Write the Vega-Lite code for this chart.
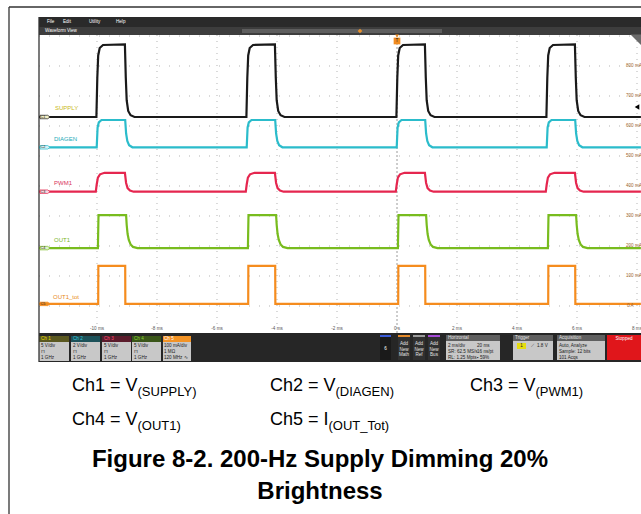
{
"$schema": "https://vega.github.io/schema/vega-lite/v6.json",
"width": 641, "height": 514, "padding": 0, "autosize": {"type": "none"},
"background": "white",
"config": {"view": {"stroke": null}},
"datasets": {
"boxes": [
{"part":"menu","t":-11.9333,"t2":8.1333,"v":9.6333,"v2":9.3},
{"part":"bar","t":-11.9333,"t2":8.1333,"v":9.3,"v2":9.0333},
{"part":"track","t":-5.1667,"t2":1.5,"v":9.2333,"v2":9.1},
{"part":"dock","t":-11.9333,"t2":8.1333,"v":-0.9,"v2":-1.8667},
{"part":"h1","t":-11.9333,"t2":-10.9333,"v":-1.0,"v2":-1.2},
{"part":"h2","t":-10.8667,"t2":-9.9,"v":-1.0,"v2":-1.2},
{"part":"h3","t":-9.8333,"t2":-8.8667,"v":-1.0,"v2":-1.2},
{"part":"h4","t":-8.8333,"t2":-7.8667,"v":-1.0,"v2":-1.2},
{"part":"h5","t":-7.8,"t2":-6.8667,"v":-1.0,"v2":-1.2},
{"part":"body","t":-11.9333,"t2":-10.9333,"v":-1.2,"v2":-1.8333},
{"part":"body","t":-10.8667,"t2":-9.9,"v":-1.2,"v2":-1.8333},
{"part":"body","t":-9.8333,"t2":-8.8667,"v":-1.2,"v2":-1.8333},
{"part":"body","t":-8.8333,"t2":-7.8667,"v":-1.2,"v2":-1.8333},
{"part":"body","t":-7.8,"t2":-6.8667,"v":-1.2,"v2":-1.8333},
{"part":"dark","t":-0.5667,"t2":-0.2,"v":-0.9667,"v2":-1.8},
{"part":"blue","t":-0.5667,"t2":-0.2,"v":-0.9667,"v2":-1.0333},
{"part":"dark2","t":0.0333,"t2":0.4333,"v":-0.9667,"v2":-1.8},
{"part":"dark2","t":0.5333,"t2":0.9333,"v":-0.9667,"v2":-1.8},
{"part":"dark2","t":1.0333,"t2":1.4333,"v":-0.9667,"v2":-1.8},
{"part":"orange","t":0.0333,"t2":0.4333,"v":-0.9667,"v2":-1.0333},
{"part":"gray","t":0.5333,"t2":0.9333,"v":-0.9667,"v2":-1.0333},
{"part":"purple","t":1.0333,"t2":1.4333,"v":-0.9667,"v2":-1.0333},
{"part":"hdr","t":1.6333,"t2":3.4333,"v":-0.9667,"v2":-1.1667},
{"part":"body","t":1.6333,"t2":3.4333,"v":-1.1667,"v2":-1.8},
{"part":"hdr","t":3.8667,"t2":5.2,"v":-0.9667,"v2":-1.1667},
{"part":"body","t":3.8667,"t2":5.2,"v":-1.1667,"v2":-1.8},
{"part":"hdr","t":5.3333,"t2":6.9333,"v":-0.9667,"v2":-1.1667},
{"part":"body","t":5.3333,"t2":6.9333,"v":-1.1667,"v2":-1.8},
{"part":"stop","t":7.0,"t2":8.1333,"v":-0.9667,"v2":-1.8},
{"part":"trigbox","t":4.0,"t2":4.3,"v":-1.2333,"v2":-1.4333}
],
"hgrid": [
{"t":-11.9333,"t2":8.1333,"v":0},{"t":-11.9333,"t2":8.1333,"v":1},{"t":-11.9333,"t2":8.1333,"v":2},
{"t":-11.9333,"t2":8.1333,"v":3},{"t":-11.9333,"t2":8.1333,"v":4},{"t":-11.9333,"t2":8.1333,"v":5},
{"t":-11.9333,"t2":8.1333,"v":6},{"t":-11.9333,"t2":8.1333,"v":7},{"t":-11.9333,"t2":8.1333,"v":8},
{"t":-11.9333,"t2":8.1333,"v":9}
],
"vgrid": [
{"t":-10,"v":9.0333,"v2":-0.6},{"t":-8,"v":9.0333,"v2":-0.6},{"t":-6,"v":9.0333,"v2":-0.6},
{"t":-4,"v":9.0333,"v2":-0.6},{"t":-2,"v":9.0333,"v2":-0.6},{"t":2,"v":9.0333,"v2":-0.6},
{"t":4,"v":9.0333,"v2":-0.6},{"t":6,"v":9.0333,"v2":-0.6},{"t":8,"v":9.0333,"v2":-0.6}
],
"trig": [{"t":0,"v":9.0333,"v2":-0.9}],
"frame": [
{"t":-12.9333,"t2":8.1333,"v":9.9667,"v2":9.9667},
{"t":-12.9333,"t2":-12.9333,"v":9.9667,"v2":-6.9333},
{"t":-11.9333,"t2":-11.9333,"v":9.6333,"v2":-1.8667}
],
"traces": [
{"c":"SUPPLY","t":-11.93,"v":6.3},
{"c":"SUPPLY","t":-10.02,"v":6.3},{"c":"SUPPLY","t":-9.99,"v":7.6},{"c":"SUPPLY","t":-9.96,"v":8.35},{"c":"SUPPLY","t":-9.91,"v":8.6},{"c":"SUPPLY","t":-9.8,"v":8.7},{"c":"SUPPLY","t":-9.07,"v":8.72},{"c":"SUPPLY","t":-9.04,"v":7.6},{"c":"SUPPLY","t":-9.01,"v":6.85},{"c":"SUPPLY","t":-8.96,"v":6.5},{"c":"SUPPLY","t":-8.88,"v":6.36},{"c":"SUPPLY","t":-8.75,"v":6.3},
{"c":"SUPPLY","t":-5.02,"v":6.3},{"c":"SUPPLY","t":-4.99,"v":7.6},{"c":"SUPPLY","t":-4.96,"v":8.35},{"c":"SUPPLY","t":-4.91,"v":8.6},{"c":"SUPPLY","t":-4.8,"v":8.7},{"c":"SUPPLY","t":-4.07,"v":8.72},{"c":"SUPPLY","t":-4.04,"v":7.6},{"c":"SUPPLY","t":-4.01,"v":6.85},{"c":"SUPPLY","t":-3.96,"v":6.5},{"c":"SUPPLY","t":-3.88,"v":6.36},{"c":"SUPPLY","t":-3.75,"v":6.3},
{"c":"SUPPLY","t":-0.02,"v":6.3},{"c":"SUPPLY","t":0.01,"v":7.6},{"c":"SUPPLY","t":0.04,"v":8.35},{"c":"SUPPLY","t":0.09,"v":8.6},{"c":"SUPPLY","t":0.2,"v":8.7},{"c":"SUPPLY","t":0.93,"v":8.72},{"c":"SUPPLY","t":0.96,"v":7.6},{"c":"SUPPLY","t":0.99,"v":6.85},{"c":"SUPPLY","t":1.04,"v":6.5},{"c":"SUPPLY","t":1.12,"v":6.36},{"c":"SUPPLY","t":1.25,"v":6.3},
{"c":"SUPPLY","t":4.98,"v":6.3},{"c":"SUPPLY","t":5.01,"v":7.6},{"c":"SUPPLY","t":5.04,"v":8.35},{"c":"SUPPLY","t":5.09,"v":8.6},{"c":"SUPPLY","t":5.2,"v":8.7},{"c":"SUPPLY","t":5.93,"v":8.72},{"c":"SUPPLY","t":5.96,"v":7.6},{"c":"SUPPLY","t":5.99,"v":6.85},{"c":"SUPPLY","t":6.04,"v":6.5},{"c":"SUPPLY","t":6.12,"v":6.36},{"c":"SUPPLY","t":6.25,"v":6.3},
{"c":"SUPPLY","t":8.13,"v":6.3},
{"c":"DIAGEN","t":-11.93,"v":5.29},
{"c":"DIAGEN","t":-10.01,"v":5.29},{"c":"DIAGEN","t":-9.98,"v":5.95},{"c":"DIAGEN","t":-9.94,"v":6.12},{"c":"DIAGEN","t":-9.85,"v":6.2},{"c":"DIAGEN","t":-9.06,"v":6.2},{"c":"DIAGEN","t":-9.03,"v":5.75},{"c":"DIAGEN","t":-8.99,"v":5.5},{"c":"DIAGEN","t":-8.93,"v":5.36},{"c":"DIAGEN","t":-8.82,"v":5.29},
{"c":"DIAGEN","t":-5.01,"v":5.29},{"c":"DIAGEN","t":-4.98,"v":5.95},{"c":"DIAGEN","t":-4.94,"v":6.12},{"c":"DIAGEN","t":-4.85,"v":6.2},{"c":"DIAGEN","t":-4.06,"v":6.2},{"c":"DIAGEN","t":-4.03,"v":5.75},{"c":"DIAGEN","t":-3.99,"v":5.5},{"c":"DIAGEN","t":-3.93,"v":5.36},{"c":"DIAGEN","t":-3.82,"v":5.29},
{"c":"DIAGEN","t":-0.01,"v":5.29},{"c":"DIAGEN","t":0.02,"v":5.95},{"c":"DIAGEN","t":0.06,"v":6.12},{"c":"DIAGEN","t":0.15,"v":6.2},{"c":"DIAGEN","t":0.94,"v":6.2},{"c":"DIAGEN","t":0.97,"v":5.75},{"c":"DIAGEN","t":1.01,"v":5.5},{"c":"DIAGEN","t":1.07,"v":5.36},{"c":"DIAGEN","t":1.18,"v":5.29},
{"c":"DIAGEN","t":4.99,"v":5.29},{"c":"DIAGEN","t":5.02,"v":5.95},{"c":"DIAGEN","t":5.06,"v":6.12},{"c":"DIAGEN","t":5.15,"v":6.2},{"c":"DIAGEN","t":5.94,"v":6.2},{"c":"DIAGEN","t":5.97,"v":5.75},{"c":"DIAGEN","t":6.01,"v":5.5},{"c":"DIAGEN","t":6.07,"v":5.36},{"c":"DIAGEN","t":6.18,"v":5.29},
{"c":"DIAGEN","t":8.13,"v":5.29},
{"c":"PWM1","t":-11.93,"v":3.81},
{"c":"PWM1","t":-10.04,"v":3.81},{"c":"PWM1","t":-10.01,"v":4.05},{"c":"PWM1","t":-9.97,"v":4.28},{"c":"PWM1","t":-9.9,"v":4.39},{"c":"PWM1","t":-9.75,"v":4.44},{"c":"PWM1","t":-9.07,"v":4.44},{"c":"PWM1","t":-9.03,"v":4.1},{"c":"PWM1","t":-8.98,"v":3.93},{"c":"PWM1","t":-8.9,"v":3.85},{"c":"PWM1","t":-8.78,"v":3.81},
{"c":"PWM1","t":-5.04,"v":3.81},{"c":"PWM1","t":-5.01,"v":4.05},{"c":"PWM1","t":-4.97,"v":4.28},{"c":"PWM1","t":-4.9,"v":4.39},{"c":"PWM1","t":-4.75,"v":4.44},{"c":"PWM1","t":-4.07,"v":4.44},{"c":"PWM1","t":-4.03,"v":4.1},{"c":"PWM1","t":-3.98,"v":3.93},{"c":"PWM1","t":-3.9,"v":3.85},{"c":"PWM1","t":-3.78,"v":3.81},
{"c":"PWM1","t":-0.04,"v":3.81},{"c":"PWM1","t":-0.01,"v":4.05},{"c":"PWM1","t":0.03,"v":4.28},{"c":"PWM1","t":0.1,"v":4.39},{"c":"PWM1","t":0.25,"v":4.44},{"c":"PWM1","t":0.93,"v":4.44},{"c":"PWM1","t":0.97,"v":4.1},{"c":"PWM1","t":1.02,"v":3.93},{"c":"PWM1","t":1.1,"v":3.85},{"c":"PWM1","t":1.22,"v":3.81},
{"c":"PWM1","t":4.96,"v":3.81},{"c":"PWM1","t":4.99,"v":4.05},{"c":"PWM1","t":5.03,"v":4.28},{"c":"PWM1","t":5.1,"v":4.39},{"c":"PWM1","t":5.25,"v":4.44},{"c":"PWM1","t":5.93,"v":4.44},{"c":"PWM1","t":5.97,"v":4.1},{"c":"PWM1","t":6.02,"v":3.93},{"c":"PWM1","t":6.1,"v":3.85},{"c":"PWM1","t":6.22,"v":3.81},
{"c":"PWM1","t":8.13,"v":3.81},
{"c":"OUT1","t":-11.93,"v":1.93},
{"c":"OUT1","t":-9.97,"v":1.93},{"c":"OUT1","t":-9.95,"v":3.03},{"c":"OUT1","t":-9.03,"v":3.03},{"c":"OUT1","t":-9.01,"v":2.7},{"c":"OUT1","t":-8.98,"v":2.4},{"c":"OUT1","t":-8.94,"v":2.2},{"c":"OUT1","t":-8.88,"v":2.05},{"c":"OUT1","t":-8.8,"v":1.97},{"c":"OUT1","t":-8.65,"v":1.93},
{"c":"OUT1","t":-4.97,"v":1.93},{"c":"OUT1","t":-4.95,"v":3.03},{"c":"OUT1","t":-4.03,"v":3.03},{"c":"OUT1","t":-4.01,"v":2.7},{"c":"OUT1","t":-3.98,"v":2.4},{"c":"OUT1","t":-3.94,"v":2.2},{"c":"OUT1","t":-3.88,"v":2.05},{"c":"OUT1","t":-3.8,"v":1.97},{"c":"OUT1","t":-3.65,"v":1.93},
{"c":"OUT1","t":0.03,"v":1.93},{"c":"OUT1","t":0.05,"v":3.03},{"c":"OUT1","t":0.97,"v":3.03},{"c":"OUT1","t":0.99,"v":2.7},{"c":"OUT1","t":1.02,"v":2.4},{"c":"OUT1","t":1.06,"v":2.2},{"c":"OUT1","t":1.12,"v":2.05},{"c":"OUT1","t":1.2,"v":1.97},{"c":"OUT1","t":1.35,"v":1.93},
{"c":"OUT1","t":5.03,"v":1.93},{"c":"OUT1","t":5.05,"v":3.03},{"c":"OUT1","t":5.97,"v":3.03},{"c":"OUT1","t":5.99,"v":2.7},{"c":"OUT1","t":6.02,"v":2.4},{"c":"OUT1","t":6.06,"v":2.2},{"c":"OUT1","t":6.12,"v":2.05},{"c":"OUT1","t":6.2,"v":1.97},{"c":"OUT1","t":6.35,"v":1.93},
{"c":"OUT1","t":8.13,"v":1.93},
{"c":"OUT1_tot","t":-11.93,"v":0.07},
{"c":"OUT1_tot","t":-9.96,"v":0.07},{"c":"OUT1_tot","t":-9.955,"v":1.34},{"c":"OUT1_tot","t":-9.06,"v":1.34},{"c":"OUT1_tot","t":-9.055,"v":0.07},
{"c":"OUT1_tot","t":-4.96,"v":0.07},{"c":"OUT1_tot","t":-4.955,"v":1.34},{"c":"OUT1_tot","t":-4.06,"v":1.34},{"c":"OUT1_tot","t":-4.055,"v":0.07},
{"c":"OUT1_tot","t":0.04,"v":0.07},{"c":"OUT1_tot","t":0.045,"v":1.34},{"c":"OUT1_tot","t":0.94,"v":1.34},{"c":"OUT1_tot","t":0.945,"v":0.07},
{"c":"OUT1_tot","t":5.04,"v":0.07},{"c":"OUT1_tot","t":5.045,"v":1.34},{"c":"OUT1_tot","t":5.94,"v":1.34},{"c":"OUT1_tot","t":5.945,"v":0.07},
{"c":"OUT1_tot","t":8.13,"v":0.07}
],
"badges": [
{"c":"SUPPLY","part":"b1","t":-11.7333,"v":6.3,"text":"C1"},
{"c":"DIAGEN","part":"b2","t":-11.7333,"v":5.29,"text":"C2"},
{"c":"PWM1","part":"b3","t":-11.7333,"v":3.81,"text":"C3"},
{"c":"OUT1","part":"b4","t":-11.7333,"v":1.93,"text":"C4"},
{"c":"OUT1_tot","part":"b5","t":-11.7333,"v":0.07,"text":"C5"}
],
"marks": [
{"m":"tbox","t":0,"v":8.8333},
{"m":"tri","t":0,"v":9.0},
{"m":"slider","t":-1.2333,"v":9.1667},
{"m":"corner","t":7.9667,"v":8.8667},
{"m":"arrow","t":8.0,"v":6.6333}
],
"labels": [
{"kind":"ui","ink":"white","t":-11.6667,"v":9.4667,"text":"File"},
{"kind":"ui","ink":"white","t":-11.1333,"v":9.4667,"text":"Edit"},
{"kind":"ui","ink":"white","t":-10.2667,"v":9.4667,"text":"Utility"},
{"kind":"ui","ink":"white","t":-9.3667,"v":9.4667,"text":"Help"},
{"kind":"ui","ink":"white","t":-11.7333,"v":9.1667,"text":"Waveform View"},
{"kind":"uic","ink":"tick","t":-10,"v":-0.7667,"text":"-10 ms"},
{"kind":"uic","ink":"tick","t":-8,"v":-0.7667,"text":"-8 ms"},
{"kind":"uic","ink":"tick","t":-6,"v":-0.7667,"text":"-6 ms"},
{"kind":"uic","ink":"tick","t":-4,"v":-0.7667,"text":"-4 ms"},
{"kind":"uic","ink":"tick","t":-2,"v":-0.7667,"text":"-2 ms"},
{"kind":"uic","ink":"tick","t":0,"v":-0.7667,"text":"0 s"},
{"kind":"uic","ink":"tick","t":2,"v":-0.7667,"text":"2 ms"},
{"kind":"uic","ink":"tick","t":4,"v":-0.7667,"text":"4 ms"},
{"kind":"uic","ink":"tick","t":6,"v":-0.7667,"text":"6 ms"},
{"kind":"uic","ink":"tick","t":8,"v":-0.7667,"text":"8 ms"},
{"kind":"ui","ink":"ch5","t":7.6333,"v":8,"text":"800 mA"},
{"kind":"ui","ink":"ch5","t":7.6333,"v":7,"text":"700 mA"},
{"kind":"ui","ink":"ch5","t":7.6333,"v":6,"text":"600 mA"},
{"kind":"ui","ink":"ch5","t":7.6333,"v":5,"text":"500 mA"},
{"kind":"ui","ink":"ch5","t":7.6333,"v":4,"text":"400 mA"},
{"kind":"ui","ink":"ch5","t":7.6333,"v":3,"text":"300 mA"},
{"kind":"ui","ink":"ch5","t":7.6333,"v":2,"text":"200 mA"},
{"kind":"ui","ink":"ch5","t":7.6333,"v":1,"text":"100 mA"},
{"kind":"ui","ink":"ch5","t":7.6667,"v":0,"text":"0 A"},
{"kind":"ui","ink":"y","t":-11.8667,"v":-1.1,"text":"Ch 1"},
{"kind":"ui","ink":"c","t":-10.8,"v":-1.1,"text":"Ch 2"},
{"kind":"ui","ink":"r","t":-9.7667,"v":-1.1,"text":"Ch 3"},
{"kind":"ui","ink":"g","t":-8.7667,"v":-1.1,"text":"Ch 4"},
{"kind":"ui","ink":"white","t":-7.7667,"v":-1.1,"text":"Ch 5"},
{"kind":"ui","ink":"dark","t":-11.8667,"v":-1.3333,"text":"5 V/div"},
{"kind":"ui","ink":"dark","t":-11.8667,"v":-1.5333,"text":"⊓"},
{"kind":"ui","ink":"dark","t":-11.8667,"v":-1.7333,"text":"1 GHz"},
{"kind":"ui","ink":"dark","t":-10.8,"v":-1.3333,"text":"2 V/div"},
{"kind":"ui","ink":"dark","t":-10.8,"v":-1.5333,"text":"⊓"},
{"kind":"ui","ink":"dark","t":-10.8,"v":-1.7333,"text":"1 GHz"},
{"kind":"ui","ink":"dark","t":-9.7667,"v":-1.3333,"text":"5 V/div"},
{"kind":"ui","ink":"dark","t":-9.7667,"v":-1.5333,"text":"⊓"},
{"kind":"ui","ink":"dark","t":-9.7667,"v":-1.7333,"text":"1 GHz"},
{"kind":"ui","ink":"dark","t":-8.7667,"v":-1.3333,"text":"5 V/div"},
{"kind":"ui","ink":"dark","t":-8.7667,"v":-1.5333,"text":"⊓"},
{"kind":"ui","ink":"dark","t":-8.7667,"v":-1.7333,"text":"1 GHz"},
{"kind":"ui","ink":"dark","t":-7.7667,"v":-1.3333,"text":"100 mA/div"},
{"kind":"ui","ink":"dark","t":-7.7667,"v":-1.5333,"text":"1 MΩ"},
{"kind":"ui","ink":"dark","t":-7.7667,"v":-1.7333,"text":"120 MHz ∿"},
{"kind":"uic","ink":"white","t":-0.3833,"v":-1.4333,"text":"6"},
{"kind":"uic","ink":"light","t":0.2333,"v":-1.2667,"text":"Add"},
{"kind":"uic","ink":"light","t":0.2333,"v":-1.45,"text":"New"},
{"kind":"uic","ink":"light","t":0.2333,"v":-1.6333,"text":"Math"},
{"kind":"uic","ink":"light","t":0.7333,"v":-1.2667,"text":"Add"},
{"kind":"uic","ink":"light","t":0.7333,"v":-1.45,"text":"New"},
{"kind":"uic","ink":"light","t":0.7333,"v":-1.6333,"text":"Ref"},
{"kind":"uic","ink":"light","t":1.2333,"v":-1.2667,"text":"Add"},
{"kind":"uic","ink":"light","t":1.2333,"v":-1.45,"text":"New"},
{"kind":"uic","ink":"light","t":1.2333,"v":-1.6333,"text":"Bus"},
{"kind":"ui","ink":"light","t":1.7,"v":-1.0667,"text":"Horizontal"},
{"kind":"ui","ink":"dark","t":1.7,"v":-1.3333,"text":"2 ms/div"},
{"kind":"ui","ink":"dark","t":2.6667,"v":-1.3333,"text":"20 ms"},
{"kind":"ui","ink":"dark","t":1.7,"v":-1.5333,"text":"SR: 62.5 MS/s"},
{"kind":"ui","ink":"dark","t":2.6667,"v":-1.5333,"text":"16 ns/pt"},
{"kind":"ui","ink":"dark","t":1.7,"v":-1.7333,"text":"RL: 1.25 Mpts"},
{"kind":"ui","ink":"dark","t":2.6667,"v":-1.7333,"text":"▪ 59%"},
{"kind":"ui","ink":"light","t":3.9333,"v":-1.0667,"text":"Trigger"},
{"kind":"uic","ink":"dark","t":4.15,"v":-1.3333,"text":"1"},
{"kind":"ui","ink":"dark","t":4.4667,"v":-1.3333,"text":"⟋"},
{"kind":"ui","ink":"dark","t":4.6667,"v":-1.3333,"text":"1.8 V"},
{"kind":"ui","ink":"light","t":5.4,"v":-1.0667,"text":"Acquisition"},
{"kind":"ui","ink":"dark","t":5.4,"v":-1.3333,"text":"Auto,    Analyze"},
{"kind":"ui","ink":"dark","t":5.4,"v":-1.5333,"text":"Sample: 12 bits"},
{"kind":"ui","ink":"dark","t":5.4,"v":-1.7333,"text":"101 Acqs"},
{"kind":"uic","ink":"white","t":7.5667,"v":-1.1,"text":"Stopped"},
{"kind":"uic","ink":"dark","t":0,"v":8.8333,"text":"T"},
{"kind":"trace","ink":"supply","t":-11.4,"v":6.6,"text":"SUPPLY"},
{"kind":"trace","ink":"diagen","t":-11.4333,"v":5.5667,"text":"DIAGEN"},
{"kind":"trace","ink":"pwm","t":-11.4333,"v":4.1,"text":"PWM1"},
{"kind":"trace","ink":"out","t":-11.4333,"v":2.2,"text":"OUT1"},
{"kind":"trace","ink":"tot","t":-11.4667,"v":0.3,"text":"OUT1_tot"},
{"kind":"badge","ink":"dark","t":-11.8,"v":6.3,"text":"C1"},
{"kind":"badge","ink":"dark","t":-11.8,"v":5.29,"text":"C2"},
{"kind":"badge","ink":"dark","t":-11.8,"v":3.81,"text":"C3"},
{"kind":"badge","ink":"dark","t":-11.8,"v":1.93,"text":"C4"},
{"kind":"badge","ink":"dark","t":-11.8,"v":0.07,"text":"C5"},
{"kind":"cap","ink":"black","t":-10.8333,"v":-2.8333,"text":"Ch1 = V"},
{"kind":"cap","ink":"black","t":-4.2333,"v":-2.8333,"text":"Ch2 = V"},
{"kind":"cap","ink":"black","t":2.4333,"v":-2.8333,"text":"Ch3 = V"},
{"kind":"cap","ink":"black","t":-10.8333,"v":-3.9667,"text":"Ch4 = V"},
{"kind":"cap","ink":"black","t":-4.2333,"v":-3.9667,"text":"Ch5 = I"},
{"kind":"sub","ink":"black","t":-8.65,"v":-3.0,"text":"(SUPPLY)"},
{"kind":"sub","ink":"black","t":-2.05,"v":-3.0,"text":"(DIAGEN)"},
{"kind":"sub","ink":"black","t":4.6167,"v":-3.0,"text":"(PWM1)"},
{"kind":"sub","ink":"black","t":-8.65,"v":-4.1333,"text":"(OUT1)"},
{"kind":"sub","ink":"black","t":-2.2833,"v":-4.1333,"text":"(OUT_Tot)"},
{"kind":"title","ink":"black","t":-2.5667,"v":-5.3667,"text":"Figure 8-2. 200-Hz Supply Dimming 20%"},
{"kind":"title","ink":"black","t":-2.5667,"v":-6.4333,"text":"Brightness"}
]
},
"encoding": {
"x": {"field":"t","type":"quantitative","scale":{"domain":[-13.2333,8.1333],"nice":false,"zero":false},"axis":null},
"y": {"field":"v","type":"quantitative","scale":{"domain":[-6.9333,10.2],"nice":false,"zero":false},"axis":null}
},
"layer": [
{"data":{"name":"boxes"},"mark":{"type":"rect","strokeWidth":0},
 "encoding":{"x2":{"field":"t2"},"y2":{"field":"v2"},
 "fill":{"field":"part","type":"nominal","legend":null,"scale":{
 "domain":["menu","bar","track","dock","h1","h2","h3","h4","h5","body","dark","dark2","blue","orange","gray","purple","hdr","stop","trigbox","b1","b2","b3","b4","b5"],
 "range":["#2a2a2a","#3d3d3d","#5e5e5e","#262626","#5a5820","#1c5159","#5b1c2c","#3a5619","#f39325","#c8c8c8","#1a1a1a","#303030","#3a5bd8","#e58a2a","#9a9a9a","#a54bd6","#5f5f5f","#e0161b","#e5dc10","#f4f0c5","#d5f2f5","#f9d8e0","#e3f2cf","#f08b1f"]}}}},
{"data":{"name":"hgrid"},"mark":{"type":"rule","color":"#b5b5b5","strokeWidth":1,"strokeDash":[1,9]},
 "encoding":{"x2":{"field":"t2"}}},
{"data":{"name":"vgrid"},"mark":{"type":"rule","color":"#b5b5b5","strokeWidth":1,"strokeDash":[1,5]},
 "encoding":{"y2":{"field":"v2"}}},
{"data":{"name":"trig"},"mark":{"type":"rule","color":"#9a9a9a","strokeWidth":1,"strokeDash":[2,2]},
 "encoding":{"y2":{"field":"v2"}}},
{"data":{"name":"traces"},"mark":{"type":"line","strokeWidth":2.2,"interpolate":"linear"},
 "encoding":{"stroke":{"field":"c","type":"nominal","legend":null,"scale":{
 "domain":["SUPPLY","DIAGEN","PWM1","OUT1","OUT1_tot"],
 "range":["#1a1a1a","#2bbccb","#e5264f","#78bc1e","#f58c1e"]}},
 "order":{"field":"t","type":"quantitative"}}},
{"data":{"name":"frame"},"mark":{"type":"rule","color":"#333333","strokeWidth":1.3},
 "encoding":{"x2":{"field":"t2"},"y2":{"field":"v2"}}},
{"data":{"name":"badges"},"mark":{"type":"point","filled":true,"size":100,"strokeWidth":0.7,"opacity":1,
 "shape":"M-1,-0.35L0.55,-0.35L1,0L0.55,0.35L-1,0.35Z"},
 "encoding":{"fill":{"field":"part","type":"nominal","legend":null},
 "stroke":{"field":"c","type":"nominal","legend":null}}},
{"data":{"name":"marks"},"transform":[{"filter":"datum.m=='tbox'"}],"mark":{"type":"point","shape":"square","filled":true,"size":45,"color":"#f08b1f","opacity":1}},
{"data":{"name":"marks"},"transform":[{"filter":"datum.m=='tri'"}],"mark":{"type":"point","shape":"triangle-down","filled":true,"size":14,"color":"#f08b1f","opacity":1}},
{"data":{"name":"marks"},"transform":[{"filter":"datum.m=='slider'"}],"mark":{"type":"point","shape":"diamond","filled":true,"size":22,"color":"#e8912c","opacity":1}},
{"data":{"name":"marks"},"transform":[{"filter":"datum.m=='corner'"}],"mark":{"type":"point","shape":"M-1,-1L1,-1L1,1Z","filled":true,"size":120,"color":"#6a6a6a","opacity":1}},
{"data":{"name":"marks"},"transform":[{"filter":"datum.m=='arrow'"}],"mark":{"type":"point","shape":"triangle-left","filled":true,"size":28,"color":"#000000","opacity":1}},
{"data":{"name":"labels"},"transform":[{"filter":"datum.kind=='ui'"}],
 "mark":{"type":"text","align":"left","baseline":"middle","fontSize":4.6,"font":"Liberation Sans"},
 "encoding":{"text":{"field":"text"},"color":{"field":"ink","type":"nominal","legend":null,"scale":{
 "domain":["white","tick","ch5","dark","light","y","c","r","g","supply","diagen","pwm","out","tot","black"],
 "range":["#ffffff","#555555","#a0652d","#222222","#e2e2e2","#e6de00","#33c8d8","#ff4d6d","#8ad232","#c8b820","#22aab8","#d8325a","#7ab52a","#e88a20","#000000"]}}}},
{"data":{"name":"labels"},"transform":[{"filter":"datum.kind=='uic'"}],
 "mark":{"type":"text","align":"center","baseline":"middle","fontSize":4.6,"font":"Liberation Sans"},
 "encoding":{"text":{"field":"text"},"color":{"field":"ink","type":"nominal","legend":null}}},
{"data":{"name":"labels"},"transform":[{"filter":"datum.kind=='badge'"}],
 "mark":{"type":"text","align":"center","baseline":"middle","fontSize":3.8,"font":"Liberation Sans"},
 "encoding":{"text":{"field":"text"},"color":{"field":"ink","type":"nominal","legend":null}}},
{"data":{"name":"labels"},"transform":[{"filter":"datum.kind=='trace'"}],
 "mark":{"type":"text","align":"left","baseline":"middle","fontSize":6,"font":"Liberation Sans"},
 "encoding":{"text":{"field":"text"},"color":{"field":"ink","type":"nominal","legend":null}}},
{"data":{"name":"labels"},"transform":[{"filter":"datum.kind=='cap'"}],
 "mark":{"type":"text","align":"left","baseline":"alphabetic","fontSize":18,"font":"Liberation Sans"},
 "encoding":{"text":{"field":"text"},"color":{"field":"ink","type":"nominal","legend":null}}},
{"data":{"name":"labels"},"transform":[{"filter":"datum.kind=='sub'"}],
 "mark":{"type":"text","align":"left","baseline":"alphabetic","fontSize":13,"font":"Liberation Sans"},
 "encoding":{"text":{"field":"text"},"color":{"field":"ink","type":"nominal","legend":null}}},
{"data":{"name":"labels"},"transform":[{"filter":"datum.kind=='title'"}],
 "mark":{"type":"text","align":"center","baseline":"alphabetic","fontSize":24,"fontWeight":"bold","font":"Liberation Sans"},
 "encoding":{"text":{"field":"text"},"color":{"field":"ink","type":"nominal","legend":null}}}
]
}
